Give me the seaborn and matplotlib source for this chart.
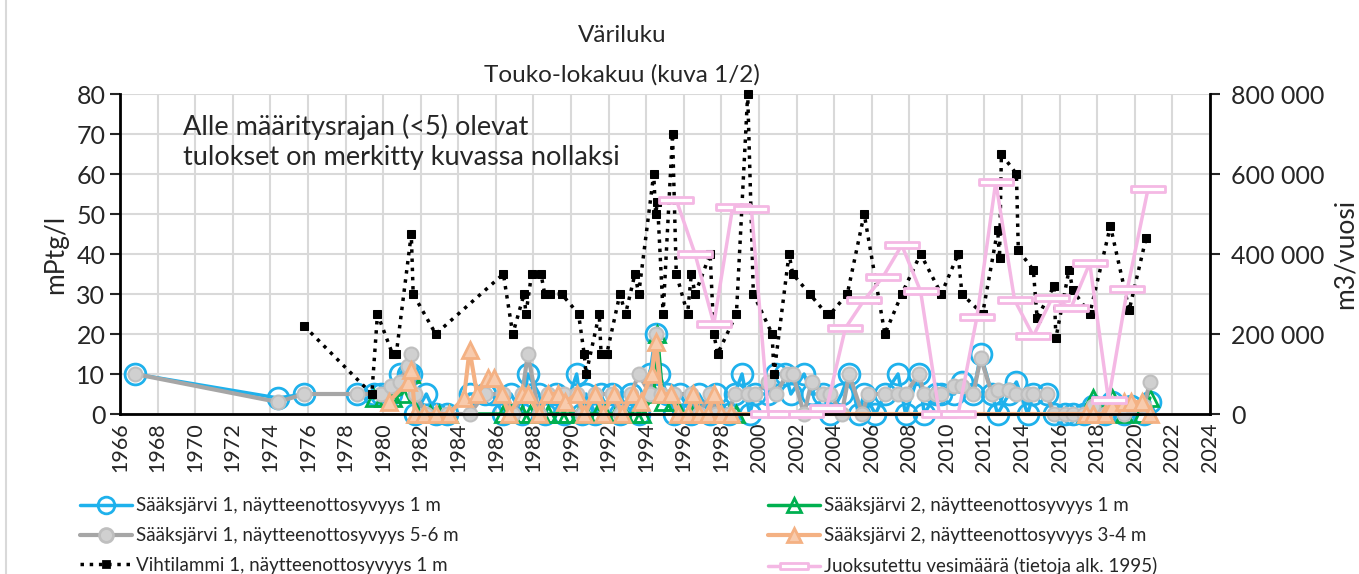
import numpy as np
import pandas as pd
import seaborn as sns
import matplotlib.pyplot as plt
from matplotlib.lines import Line2D
from matplotlib.path import Path
from matplotlib.ticker import FuncFormatter

## DATA
# Sääksjärvi 1, 1 m
s1_1m_year = [1966.8, 1974.4, 1975.8, 1978.6, 1979.5, 1979.9, 1980.4, 1980.9, 1981.3, 1981.5,
              1981.7, 1982.3, 1982.8, 1983.4, 1984.6, 1985.4, 1985.8, 1986.4, 1986.8, 1987.4,
              1987.7, 1988.3, 1988.6, 1989.2, 1989.6, 1990.3, 1990.6, 1990.8, 1991.3, 1991.6,
              1992.2, 1992.6, 1993.2, 1993.6, 1994.2, 1994.5, 1994.7, 1995.1, 1995.5, 1995.8,
              1996.4, 1996.8, 1997.4, 1997.7, 1998.4, 1998.7, 1999.1, 1999.5, 1999.8, 2000.5,
              2000.9, 2001.4, 2001.7, 2002.4, 2002.8, 2003.4, 2003.8, 2004.4, 2004.8, 2005.3,
              2005.6, 2006.2, 2006.7, 2007.4, 2007.8, 2008.5, 2008.8, 2009.4, 2009.7, 2010.4,
              2010.8, 2011.4, 2011.8, 2012.4, 2012.7, 2013.3, 2013.7, 2014.3, 2014.6, 2015.3,
              2015.7, 2016.3, 2016.7, 2017.3, 2017.8, 2018.4, 2018.8, 2019.4, 2019.8, 2020.5,
              2020.8]
s1_1m_val = [10, 4, 5, 5, 5, 5, 5, 10, 10, 10,
             0, 5, 0, 0, 5, 5, 5, 0, 5, 0,
             10, 5, 0, 5, 0, 10, 0, 5, 0, 5,
             5, 0, 5, 0, 10, 20, 10, 5, 0, 5,
             0, 5, 0, 5, 0, 5, 10, 0, 5, 5,
             10, 10, 5, 10, 5, 5, 0, 5, 10, 0,
             5, 0, 5, 10, 0, 10, 0, 5, 5, 5,
             8, 5, 15, 5, 0, 5, 8, 0, 5, 5,
             0, 0, 0, 0, 2, 0, 3, 0, 2, 0,
             3]

# Sääksjärvi 1, 5-6 m
s1_56m_year = [1966.8, 1974.4, 1975.8, 1978.6, 1979.9, 1980.4, 1980.9, 1981.3, 1981.5, 1981.7,
               1982.3, 1983.4, 1984.6, 1985.4, 1986.4, 1986.9, 1987.4, 1987.7, 1988.3, 1988.8,
               1989.6, 1990.3, 1990.6, 1991.3, 1992.2, 1992.6, 1993.2, 1993.6, 1994.2, 1994.5,
               1994.8, 1995.5, 1996.4, 1996.8, 1997.4, 1997.7, 1998.4, 1998.7, 1999.4, 1999.8,
               2000.5, 2000.9, 2001.5, 2001.8, 2002.4, 2002.8, 2003.4, 2003.8, 2004.4, 2004.8,
               2005.5, 2005.8, 2006.7, 2007.4, 2007.8, 2008.5, 2008.8, 2009.4, 2009.7, 2010.4,
               2010.8, 2011.4, 2011.8, 2012.4, 2012.7, 2013.3, 2013.7, 2014.3, 2014.6, 2015.3,
               2015.7, 2016.3, 2016.7, 2017.3, 2017.8, 2018.4, 2018.8, 2019.4, 2019.8, 2020.5,
               2020.8]
s1_56m_val = [10, 3, 5, 5, 5, 7, 8, 12, 15, 5,
              0, 0, 0, 5, 5, 0, 5, 15, 0, 5,
              5, 5, 0, 5, 5, 0, 5, 10, 5, 20,
              5, 5, 5, 0, 5, 0, 0, 5, 5, 5,
              8, 5, 10, 10, 0, 8, 5, 5, 0, 10,
              0, 5, 5, 5, 5, 10, 5, 5, 5, 7,
              7, 5, 14, 5, 6, 6, 5, 5, 5, 5,
              0, 0, 0, 0, 2, 0, 2, 0, 2, 2,
              8]

# Sääksjärvi 2, 1 m
s2_1m_year = [1979.5, 1980.0, 1980.5, 1981.0, 1981.5, 1981.8, 1982.5, 1983.0, 1983.5, 1986.4,
              1986.8, 1987.4, 1987.8, 1988.4, 1988.8, 1989.4, 1989.8, 1990.4, 1990.8, 1991.4,
              1991.8, 1992.4, 1992.8, 1993.4, 1993.8, 1994.4, 1994.6, 1994.9, 1995.4, 1995.8,
              1996.4, 1996.8, 1997.4, 1997.8, 1998.4, 1998.8, 2017.4, 2017.8, 2018.4, 2018.8,
              2019.4, 2019.8, 2020.4, 2020.8]
s2_1m_val = [4, 4, 4, 5, 10, 0, 0, 0, 0, 0,
             0, 0, 0, 0, 0, 0, 0, 0, 0, 0,
             0, 0, 0, 0, 0, 5, 20, 3, 3, 0,
             0, 0, 0, 0, 0, 0, 0, 4, 0, 4,
             0, 2, 0, 4]

# Sääksjärvi 2, 3-4 m
s2_34m_year = [1980.3, 1981.3, 1981.5, 1981.7, 1982.2, 1982.8, 1983.5, 1984.3, 1984.6, 1985.0,
               1985.6, 1985.9, 1986.3, 1986.7, 1987.4, 1987.7, 1988.3, 1988.8, 1989.3, 1989.7,
               1990.3, 1990.7, 1991.3, 1991.7, 1992.3, 1992.7, 1993.3, 1993.7, 1994.3, 1994.5,
               1994.8, 1995.3, 1995.7, 1996.2, 1996.5, 1996.8, 1997.3, 1997.6, 1998.0, 1998.5,
               2017.4, 2017.8, 2018.4, 2018.8, 2019.4, 2019.8, 2020.4, 2020.8]
s2_34m_val = [3, 8, 11, 0, 0, 0, 0, 4, 16, 5,
              9, 9, 5, 0, 5, 5, 0, 5, 5, 3,
              5, 0, 5, 0, 5, 0, 5, 3, 10, 18,
              5, 5, 0, 0, 5, 0, 0, 5, 0, 0,
              0, 0, 0, 2, 3, 3, 3, 0]

# Vihtilammi 1, 1 m
vihti_year = [1975.8, 1979.4, 1979.7, 1980.5, 1980.7, 1981.5, 1981.6, 1982.8, 1986.4, 1986.9,
              1987.5, 1987.6, 1987.9, 1988.4, 1988.6, 1988.9, 1989.5, 1990.4, 1990.7, 1990.8,
              1991.5, 1991.6, 1991.9, 1992.6, 1992.9, 1993.4, 1993.6, 1994.4, 1994.5, 1994.6,
              1994.9, 1995.4, 1995.6, 1996.2, 1996.4, 1996.6, 1997.4, 1997.6, 1997.8, 1998.8,
              1999.4, 1999.7, 2000.7, 2000.8, 2001.6, 2001.8, 2002.7, 2003.6, 2003.8, 2004.7,
              2005.6, 2006.7, 2007.6, 2008.6, 2009.7, 2010.6, 2010.8, 2011.9, 2012.7, 2012.8,
              2012.9, 2013.7, 2013.8, 2014.6, 2014.8, 2015.7, 2015.8, 2016.5, 2016.7, 2017.6,
              2018.7, 2019.7, 2020.6]
vihti_val = [22, 5, 25, 15, 15, 45, 30, 20, 35, 20,
             30, 25, 35, 35, 30, 30, 30, 25, 15, 10,
             25, 15, 15, 30, 25, 35, 30, 60, 50, 53,
             25, 70, 35, 25, 35, 30, 40, 20, 15, 25,
             80, 30, 20, 10, 40, 35, 30, 25, 25, 30,
             50, 20, 30, 40, 30, 40, 30, 25, 46, 39,
             65, 60, 41, 36, 24, 32, 19, 36, 31, 25,
             47, 26, 44]

# Juoksutettu vesimäärä (m3/vuosi)
flow_year = [1995.6, 1996.6, 1997.6, 1998.6, 1999.6, 2000.5, 2001.4, 2002.5, 2003.6, 2004.6,
             2005.6, 2006.6, 2007.6, 2008.6, 2009.6, 2010.6, 2011.6, 2012.6, 2013.6, 2014.6,
             2015.6, 2016.6, 2017.6, 2018.6, 2019.6, 2020.7]
flow_val = [535000, 400000, 225000, 517000, 512000, 0, 0, 0, 15000, 215000,
            285000, 343000, 422000, 307000, 0, 0, 243000, 580000, 285000, 195000,
            290000, 265000, 377000, 35000, 312000, 562000]

labels = ["Sääksjärvi 1, näytteenottosyvyys 1 m",
          "Sääksjärvi 2, näytteenottosyvyys 1 m",
          "Sääksjärvi 1, näytteenottosyvyys 5-6 m",
          "Sääksjärvi 2, näytteenottosyvyys 3-4 m",
          "Vihtilammi 1, näytteenottosyvyys 1 m",
          "Juoksutettu vesimäärä (tietoja alk. 1995)"]

## STYLE
sns.set_style("white")
plt.rcParams['font.family'] = ['Lato', 'DejaVu Sans']
plt.rcParams['axes.unicode_minus'] = False

BLUE = "#1eb1ec"
GRAY = "#a6a6a6"
GREEN = "#00b050"
ORANGE = "#f4b183"
PINK = "#f4b8e4"

# wide flat box marker for the flow series
rect = Path([(-2.2, -0.45), (2.2, -0.45), (2.2, 0.45), (-2.2, 0.45), (-2.2, -0.45)],
            [Path.MOVETO, Path.LINETO, Path.LINETO, Path.LINETO, Path.CLOSEPOLY])

fig = plt.figure(figsize=(13.59, 5.74), dpi=100)
ax = fig.add_axes([120 / 1359, 1 - 414 / 574, 1090 / 1359, 320 / 574])

sty = dict(estimator=None, sort=False, clip_on=False, ax=ax)

sns.lineplot(x=s1_1m_year, y=s1_1m_val, color=BLUE, linewidth=2.5, marker='o',
             markersize=15, markerfacecolor='none', markeredgecolor=BLUE,
             markeredgewidth=2, **sty)
sns.lineplot(x=s2_1m_year, y=s2_1m_val, color=GREEN, linewidth=2.5, marker='^',
             markersize=11, markerfacecolor='none', markeredgecolor=GREEN,
             markeredgewidth=2, **sty)
sns.lineplot(x=s1_56m_year, y=s1_56m_val, color=GRAY, linewidth=3, marker='o',
             markersize=10, markerfacecolor='#d0d0d0', markeredgecolor='#bfbfbf',
             markeredgewidth=1.5, **sty)
sns.lineplot(x=s2_34m_year, y=s2_34m_val, color=ORANGE, linewidth=3, marker='^',
             markersize=11, markerfacecolor='#f8cbad', markeredgecolor=ORANGE,
             markeredgewidth=2, **sty)
sns.lineplot(x=vihti_year, y=vihti_val, color='black', linewidth=2.5, linestyle=':',
             marker='s', markersize=6, markerfacecolor='black', markeredgecolor='black',
             **sty)

ax.set_xlim(1966, 2024)
ax.set_ylim(0, 80)
ax.set_xticks(np.arange(1966, 2025, 2))
ax.set_xticklabels([str(y) for y in range(1966, 2025, 2)], rotation=90, fontsize=15.5)
ax.set_yticks(np.arange(0, 81, 10))
ax.tick_params(axis='y', labelsize=18, length=7, width=1.5, direction='out', left=True)
ax.tick_params(axis='x', length=0, pad=6)
ax.grid(True, color='#d9d9d9', linewidth=1.5)
ax.set_axisbelow(True)
for side in ['left', 'bottom']:
    ax.spines[side].set_color('black')
    ax.spines[side].set_linewidth(2)
ax.spines['top'].set_visible(False)
ax.spines['right'].set_visible(False)
ax.set_ylabel("mPtg/l", fontsize=19, labelpad=6)

ax2 = ax.twinx()
sns.lineplot(x=flow_year, y=flow_val, color=PINK, linewidth=2.5, marker=rect,
             markersize=24, markerfacecolor='white', markeredgecolor=PINK,
             markeredgewidth=2, estimator=None, sort=False, clip_on=False, ax=ax2)
ax2.set_ylim(0, 800000)
ax2.set_yticks(np.arange(0, 800001, 200000))
ax2.yaxis.set_major_formatter(FuncFormatter(lambda v, p: f"{int(v):,}".replace(",", " ")))
ax2.tick_params(axis='y', labelsize=18, length=7, width=1.5, direction='out', right=True,
                pad=8)
for side in ['left', 'top', 'bottom']:
    ax2.spines[side].set_visible(False)
ax2.spines['right'].set_color('black')
ax2.spines['right'].set_linewidth(2)
ax2.set_ylabel("m3/vuosi", fontsize=19, labelpad=6)
ax2.grid(False)

ax.text(1969.35, 75, "Alle määritysrajan (<5) olevat\ntulokset on merkitty kuvassa nollaksi",
        fontsize=19.5, va='top', ha='left', linespacing=1.25)

fig.text(622 / 1359, 1 - 36 / 574, "Väriluku", fontsize=17.5, ha='center', va='center')
fig.text(622 / 1359, 1 - 75 / 574, "Touko-lokakuu (kuva 1/2)", fontsize=17.5,
         ha='center', va='center')

## LEGEND
def handle(color, marker, ms, mfc, mec, ls='-', lw=2.5):
    return Line2D([], [], color=color, marker=marker, markersize=ms, markerfacecolor=mfc,
                  markeredgecolor=mec, linestyle=ls, linewidth=lw, markeredgewidth=2)

h_blue = handle(BLUE, 'o', 12, 'none', BLUE)
h_green = handle(GREEN, '^', 10, 'none', GREEN)
h_gray = handle(GRAY, 'o', 10, '#d0d0d0', '#bfbfbf', lw=3)
h_orange = handle(ORANGE, '^', 10, '#f8cbad', ORANGE, lw=3)
h_black = handle('black', 's', 5, 'black', 'black', ls=':')
h_pink = handle(PINK, rect, 20, 'white', PINK)

leg_kw = dict(loc='upper left', frameon=False, fontsize=13.5, handlelength=2.8,
              handletextpad=0.2, labelspacing=0.68, borderaxespad=0)
fig.legend([h_blue, h_gray, h_black], [labels[0], labels[2], labels[4]],
           bbox_to_anchor=(72 / 1359, 1 - 490 / 574), **leg_kw)
fig.legend([h_green, h_orange, h_pink], [labels[1], labels[3], labels[5]],
           bbox_to_anchor=(760 / 1359, 1 - 490 / 574), **leg_kw)

fig.add_artist(Line2D([6 / 1359, 6 / 1359], [0, 1], color='#d9d9d9', linewidth=1.5))

fig.savefig("out.png", dpi=100)
